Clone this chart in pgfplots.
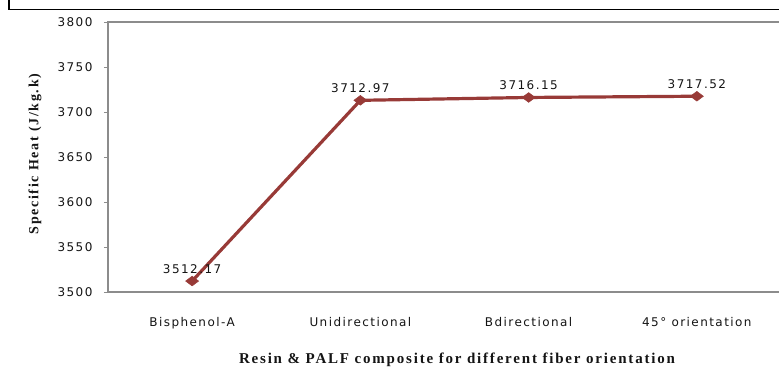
\documentclass[border=0pt]{standalone}
\usepackage{pgfplots}
\pgfplotsset{compat=1.18}
\usepackage{fontspec}
\setmainfont{Liberation Serif}
\newfontfamily\tickfont[LetterSpace=12]{DejaVu Sans}
\newfontfamily\labfont[LetterSpace=12]{Liberation Serif}
\definecolor{linered}{RGB}{152,58,55}
\definecolor{axgray}{RGB}{140,140,140}
\definecolor{txt}{RGB}{20,20,20}
\begin{document}
\begin{tikzpicture}[x=1pt,y=1pt]
\draw[line width=1.5pt] (9,420) -- (9,357.5) -- (820,357.5);
\begin{axis}[
  at={(108pt,75pt)}, anchor=south west,
  scale only axis, width=673pt, height=270pt,
  xmin=-0.5, xmax=3.5, ymin=3500, ymax=3800,
  ytick={3500,3550,3600,3650,3700,3750,3800},
  xtick={0,1,2,3},
  xticklabels={Bisphenol-A,Unidirectional,Bdirectional,45° orientation},
  axis line style={axgray, line width=1.2pt},
  ytick pos=left, xtick pos=bottom,
  tick align=outside,
  major tick length=4pt,
  ytick style={axgray, line width=1pt},
  xtick style={draw=none},
  /pgf/number format/1000 sep={},
  /pgf/number format/assume math mode=true,
  yticklabel style={font=\tickfont\fontsize{12}{14}\selectfont, text=txt, xshift=-8pt},
  xticklabel style={font=\tickfont\fontsize{12}{14}\selectfont, text=txt, yshift=-18pt},
  xlabel={Resin \& PALF composite for different fiber orientation},
  ylabel={Specific Heat (J/kg.k)},
  xlabel style={font=\labfont\bfseries\fontsize{15}{17}\selectfont, text=txt, at={(axis description cs:0.5186,-0.252)}, anchor=center},
  ylabel style={font=\labfont\bfseries\fontsize{14}{16}\selectfont, text=txt, at={(axis description cs:-0.1085,0.511)}, anchor=center, rotate=0},
  clip=false,
]
\addplot[color=linered, line width=3.2pt, mark=diamond*, mark size=6.5pt,
  mark options={rotate=90, line width=0.5pt, fill=linered},
  point meta=explicit symbolic,
  nodes near coords,
  nodes near coords style={font=\tickfont\fontsize{12}{14}\selectfont, text=txt, anchor=center, yshift=12pt}]
coordinates {
  (0,3512.17) [3512.17]
  (1,3712.97) [3712.97]
  (2,3716.15) [3716.15]
  (3,3717.52) [3717.52]
};
\end{axis}
\pgfresetboundingbox
\path[use as bounding box] (0,0) rectangle (779,367);
\end{tikzpicture}
\end{document}
